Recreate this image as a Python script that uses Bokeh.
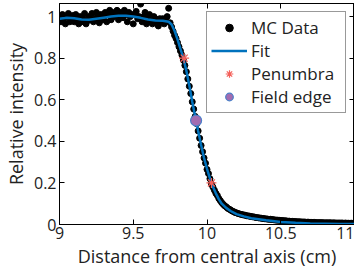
from bokeh.plotting import figure
from bokeh.models import LinearAxis, FixedTicker, CustomJSTickFormatter, Range1d, Legend, LegendItem
from bokeh.embed import file_html
from bokeh.resources import INLINE

# MC data
mc_x = [9.00, 9.01, 9.02, 9.03, 9.04, 9.05, 9.06, 9.07, 9.08, 9.09,
        9.10, 9.11, 9.12, 9.13, 9.14, 9.15, 9.16, 9.17, 9.18, 9.19,
        9.20, 9.21, 9.22, 9.23, 9.24, 9.25, 9.26, 9.27, 9.28, 9.29,
        9.30, 9.31, 9.32, 9.33, 9.34, 9.35, 9.36, 9.37, 9.38, 9.39,
        9.40, 9.41, 9.42, 9.43, 9.44, 9.45, 9.46, 9.47, 9.48, 9.49,
        9.50, 9.51, 9.52, 9.53, 9.54, 9.55, 9.56, 9.57, 9.58, 9.59,
        9.60, 9.61, 9.62, 9.63, 9.64, 9.65, 9.66, 9.67, 9.68, 9.69,
        9.70, 9.71, 9.72, 9.73, 9.74, 9.75, 9.76, 9.77, 9.78, 9.79,
        9.80, 9.81, 9.82, 9.83, 9.84, 9.85, 9.86, 9.87, 9.88, 9.89,
        9.90, 9.91, 9.92, 9.93, 9.94, 9.95, 9.96, 9.97, 9.98, 9.99,
        10.00, 10.01, 10.02, 10.03, 10.04, 10.05, 10.06, 10.07, 10.08, 10.09,
        10.10, 10.11, 10.12, 10.13, 10.14, 10.15, 10.16, 10.17, 10.18, 10.19,
        10.20, 10.21, 10.22, 10.23, 10.24, 10.25, 10.26, 10.27, 10.28, 10.29,
        10.30, 10.31, 10.32, 10.33, 10.34, 10.35, 10.36, 10.37, 10.38, 10.39,
        10.40, 10.41, 10.42, 10.43, 10.44, 10.45, 10.46, 10.47, 10.48, 10.49,
        10.50, 10.51, 10.52, 10.53, 10.54, 10.55, 10.56, 10.57, 10.58, 10.59,
        10.60, 10.61, 10.62, 10.63, 10.64, 10.65, 10.66, 10.67, 10.68, 10.69,
        10.70, 10.71, 10.72, 10.73, 10.74, 10.75, 10.76, 10.77, 10.78, 10.79,
        10.80, 10.81, 10.82, 10.83, 10.84, 10.85, 10.86, 10.87, 10.88, 10.89,
        10.90, 10.91, 10.92, 10.93, 10.94, 10.95, 10.96, 10.97, 10.98, 10.99,
        11.00]
mc_y = [1.00, 0.975, 1.01, 0.99, 0.965, 1.00, 1.015, 0.975, 0.99, 1.005,
        0.975, 1.01, 0.99, 0.965, 1.00, 0.975, 0.99, 1.015, 0.965, 0.98,
        1.00, 0.985, 1.015, 0.975, 0.99, 1.02, 1.00, 0.97, 1.01, 0.985,
        1.00, 1.02, 0.975, 1.01, 1.03, 0.985, 1.02, 1.00, 1.01, 1.03,
        0.985, 1.02, 1.01, 0.995, 1.03, 1.01, 0.975, 1.02, 1.00, 1.01,
        0.965, 1.01, 1.025, 0.99, 1.00, 1.06, 0.975, 1.00, 1.02, 0.965,
        0.99, 1.01, 0.975, 0.965, 1.00, 0.99, 0.975, 0.955, 0.99, 0.975,
        0.99, 0.965, 0.98, 1.00, 1.04, 0.97, 0.95, 0.93, 0.91, 0.895,
        0.875, 0.855, 0.835, 0.815, 0.79, 0.765, 0.735, 0.70, 0.665, 0.63,
        0.59, 0.555, 0.52, 0.485, 0.45, 0.415, 0.38, 0.35, 0.32, 0.295,
        0.265, 0.245, 0.22, 0.195, 0.18, 0.165, 0.15, 0.14, 0.125, 0.115,
        0.105, 0.097, 0.09, 0.085, 0.078, 0.074, 0.07, 0.065, 0.062, 0.058,
        0.056, 0.053, 0.051, 0.049, 0.047, 0.046, 0.044, 0.042, 0.041, 0.040,
        0.038, 0.037, 0.036, 0.034, 0.033, 0.032, 0.031, 0.030, 0.029, 0.028,
        0.027, 0.026, 0.025, 0.025, 0.024, 0.023, 0.022, 0.021, 0.021, 0.020,
        0.019, 0.019, 0.018, 0.018, 0.017, 0.016, 0.016, 0.015, 0.015, 0.014,
        0.014, 0.013, 0.013, 0.013, 0.012, 0.012, 0.012, 0.011, 0.011, 0.011,
        0.010, 0.010, 0.010, 0.010, 0.009, 0.009, 0.009, 0.009, 0.009, 0.008,
        0.008, 0.008, 0.008, 0.008, 0.008, 0.007, 0.008, 0.007, 0.007, 0.007,
        0.007, 0.007, 0.007, 0.006, 0.007, 0.006, 0.006, 0.006, 0.006, 0.006,
        0.006]

# Fit curve
fit_x = [9.00, 9.05, 9.10, 9.15, 9.20, 9.25, 9.30, 9.35, 9.40, 9.45,
         9.50, 9.55, 9.60, 9.65, 9.70, 9.74, 9.76, 9.78, 9.80, 9.82,
         9.84, 9.86, 9.88, 9.90, 9.92, 9.94, 9.96, 9.98, 10.00, 10.02,
         10.04, 10.06, 10.08, 10.10, 10.13, 10.16, 10.20, 10.25, 10.30, 10.40,
         10.50, 10.60, 10.70, 10.80, 10.90, 11.00]
fit_y = [0.990, 0.995, 0.992, 0.986, 0.985, 0.990, 0.995, 1.000, 1.004, 1.004,
         1.000, 0.994, 0.986, 0.981, 0.980, 0.975, 0.962, 0.932, 0.890, 0.845,
         0.800, 0.740, 0.670, 0.590, 0.520, 0.450, 0.382, 0.320, 0.268, 0.222,
         0.182, 0.150, 0.122, 0.100, 0.080, 0.065, 0.050, 0.039, 0.030, 0.020,
         0.012, 0.008, 0.005, 0.004, 0.003, 0.003]

pen_x = [9.845, 10.03]
pen_y = [0.80, 0.20]
edge_x = [9.926]
edge_y = [0.50]

x_ticks = [9, 9.5, 10, 10.5, 11]
y_ticks = [0, 0.2, 0.4, 0.6, 0.8, 1]

FONT = "Open Sans"
TXT = "#222222"

p = figure(width=354, height=270, output_backend="svg", toolbar_location=None,
           x_range=Range1d(9, 11), y_range=Range1d(0, 1.063),
           min_border_left=51, min_border_right=0, min_border_top=3, min_border_bottom=40)
p.grid.visible = False
p.outline_line_color = "black"
p.outline_line_width = 1

fmt = CustomJSTickFormatter(code="return (Math.round(tick*10)/10).toString();")
blank = CustomJSTickFormatter(code="return '';")

for ax in (p.xaxis[0], p.yaxis[0]):
    ax.major_tick_in = 5
    ax.major_tick_out = 0
    ax.minor_tick_in = 0
    ax.minor_tick_out = 0
    ax.axis_line_color = "black"
    ax.major_tick_line_color = "black"
    ax.major_label_text_font = FONT
    ax.major_label_text_font_size = "16px"
    ax.major_label_text_color = TXT
    ax.major_label_text_line_height = 1.0
    ax.axis_label_text_font = FONT
    ax.axis_label_text_font_size = "18px"
    ax.axis_label_text_font_style = "normal"
    ax.axis_label_text_color = TXT
    ax.axis_label_text_line_height = 1.0
    ax.formatter = fmt

p.xaxis.ticker = FixedTicker(ticks=x_ticks)
p.yaxis.ticker = FixedTicker(ticks=y_ticks)
p.xaxis.axis_label = "Distance from central axis (cm)"
p.yaxis.axis_label = "Relative intensity"
p.xaxis.major_label_standoff = 2
p.xaxis.axis_label_standoff = 2
p.yaxis.major_label_standoff = 3
p.yaxis.axis_label_standoff = 3

top = LinearAxis(ticker=FixedTicker(ticks=x_ticks), formatter=blank,
                 major_tick_in=5, major_tick_out=0, minor_tick_in=0, minor_tick_out=0,
                 major_label_standoff=0, axis_line_color="black")
right = LinearAxis(ticker=FixedTicker(ticks=y_ticks), formatter=blank,
                   major_tick_in=5, major_tick_out=0, minor_tick_in=0, minor_tick_out=0,
                   major_label_standoff=0, axis_line_color="black")
p.add_layout(top, "above")
p.add_layout(right, "right")

r_mc = p.scatter(mc_x, mc_y, marker="circle", size=6, color="black")
r_fit = p.line(fit_x, fit_y, line_color="#0072BD", line_width=2.5)
r_pen = p.scatter(pen_x, pen_y, marker="asterisk", size=10, line_color="#F4605A", line_width=1.2)
r_edge = p.scatter(edge_x, edge_y, marker="circle", size=11, fill_color="#A36CB0",
                   line_color="#4A7FC8", line_width=1.2)

legend = Legend(items=[
    LegendItem(label="MC Data", renderers=[r_mc]),
    LegendItem(label="Fit", renderers=[r_fit]),
    LegendItem(label="Penumbra", renderers=[r_pen]),
    LegendItem(label="Field edge", renderers=[r_edge]),
], location="top_right")
legend.label_text_font = FONT
legend.label_text_font_size = "17px"
legend.label_text_color = TXT
legend.glyph_width = 36
legend.glyph_height = 19
legend.label_height = 19
legend.label_width = 90
legend.label_standoff = 4
legend.spacing = 0
legend.padding = 4
legend.margin = 8
legend.border_line_color = "#333333"
legend.border_line_width = 1
legend.background_fill_alpha = 1
p.add_layout(legend, "center")

open("out.html", "w").write(file_html(p, INLINE))
